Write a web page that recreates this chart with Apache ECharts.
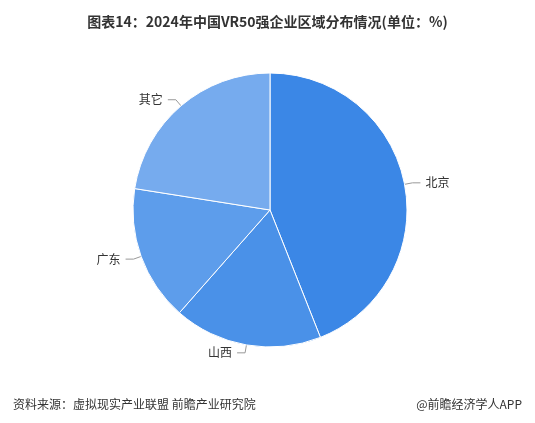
<!DOCTYPE html>
<html><head><meta charset="utf-8">
<script src="https://cdn.jsdelivr.net/npm/echarts@6/dist/echarts.min.js"></script>
<style>html,body{margin:0;padding:0;background:#fff}#c{width:535px;height:423px}</style>
</head><body><div id="c"></div>
<script>
const categories=['北京','山西','广东','其它'];
const values=[44,17.5,16,22.5];
const colors=['#3b87e6','#4a91e8','#5d9deb','#76abee'];
const chart=echarts.init(document.getElementById('c'));
chart.setOption({
  animation:false,
  title:[{text:'图表14：2024年中国VR50强企业区域分布情况(单位：%)',left:'center',top:10,
    textStyle:{fontSize:14,fontWeight:'bold',color:'#333',fontFamily:'Noto Sans CJK SC'}},
    {text:'资料来源：虚拟现实产业联盟 前瞻产业研究院',left:8,top:393,textStyle:{fontSize:12,fontWeight:'normal',color:'#333',fontFamily:'Noto Sans CJK SC'}},
    {text:'@前瞻经济学人APP',right:8,top:393,textStyle:{fontSize:12,fontWeight:'normal',color:'#333',fontFamily:'Noto Sans CJK SC'}}],
  series:[{type:'pie',center:[270,210],radius:137,startAngle:90,clockwise:true,
    data:categories.map((n,i)=>({name:n,value:values[i],itemStyle:{color:colors[i]}})),
    label:{color:'#333',fontSize:12,fontFamily:'Noto Sans CJK SC'},
    labelLine:{length:8,length2:8,lineStyle:{color:'#999'}},
    itemStyle:{borderColor:'#fff',borderWidth:1}
  }]
});
</script></body></html>
